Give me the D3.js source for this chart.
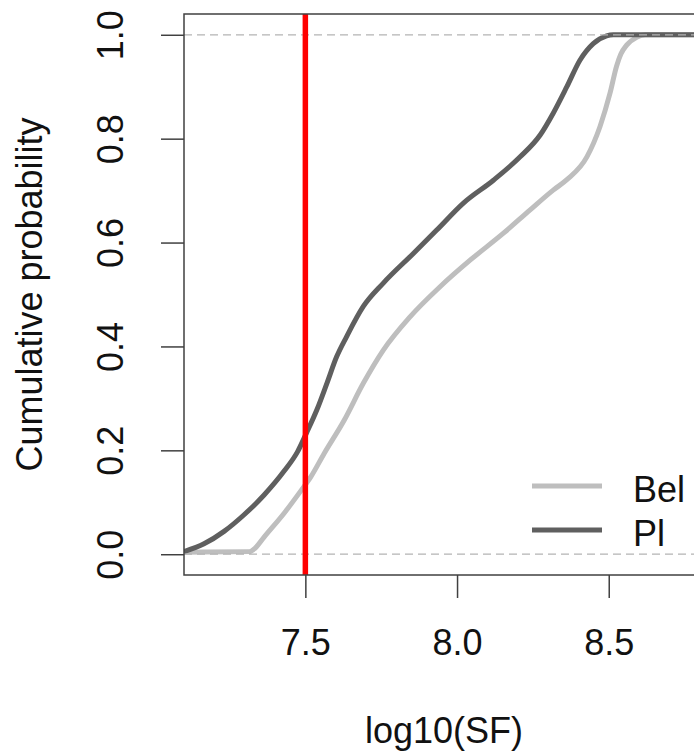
<!DOCTYPE html>
<html>
<head>
<meta charset="utf-8">
<script src="https://cdn.jsdelivr.net/npm/d3@7"></script>
<style>
  html, body { margin: 0; padding: 0; background: #fff; }
  svg { display: block; font-family: Arial, "Liberation Sans", sans-serif; }
</style>
</head>
<body>
<svg id="chart" width="694" height="753"></svg>
<script>
// ---- data ----
const seriesNames = ["Bel", "Pl"];
const belX = [7.100, 7.315, 7.335, 7.364, 7.430, 7.485, 7.518, 7.562, 7.628, 7.691, 7.757, 7.845, 7.944, 8.043, 8.153, 8.241, 8.317, 8.362, 8.428, 8.471, 8.504, 8.526, 8.540, 8.559, 8.592, 8.620, 8.820];
const belP = [0.004, 0.005, 0.012, 0.033, 0.079, 0.122, 0.149, 0.194, 0.258, 0.329, 0.393, 0.457, 0.515, 0.566, 0.618, 0.663, 0.701, 0.721, 0.765, 0.823, 0.887, 0.940, 0.963, 0.980, 0.995, 1.000, 1.000];
const plX = [7.100, 7.166, 7.232, 7.298, 7.364, 7.430, 7.474, 7.505, 7.538, 7.571, 7.603, 7.636, 7.691, 7.757, 7.856, 7.933, 8.021, 8.120, 8.208, 8.274, 8.317, 8.362, 8.405, 8.449, 8.493, 8.515, 8.820];
const plP = [0.005, 0.020, 0.044, 0.076, 0.114, 0.160, 0.197, 0.235, 0.278, 0.329, 0.380, 0.419, 0.477, 0.522, 0.579, 0.624, 0.676, 0.720, 0.765, 0.807, 0.849, 0.900, 0.951, 0.983, 0.998, 1.000, 1.000];
const xTicks = [7.5, 8.0, 8.5];
const xTickLabels = ["7.5", "8.0", "8.5"];
const yTicks = [0, 0.2, 0.4, 0.6, 0.8, 1.0];
const yTickLabels = ["0.0", "0.2", "0.4", "0.6", "0.8", "1.0"];
const refLines = [0, 1];
const threshold = 7.5;
const xTitle = "log10(SF)";
const yTitle = "Cumulative probability";

// ---- layout ----
const svg = d3.select("#chart");
const pLeft = 184, pRight = 704, pTop = 14, pBottom = 575;
const x = d3.scaleLinear().domain([7.1, 8.814]).range([pLeft, pRight]);
const y = d3.scaleLinear().domain([-0.04, 1.04]).range([pBottom, pTop]);
const colors = { Bel: "#bebebe", Pl: "#5f5f5f" };
const fontSize = 36;

svg.append("defs").append("clipPath").attr("id", "plotclip")
  .append("rect").attr("x", pLeft).attr("y", pTop).attr("width", pRight - pLeft).attr("height", pBottom - pTop);

const plot = svg.append("g").attr("clip-path", "url(#plotclip)");

const line = d3.line().x(d => x(d[0])).y(d => y(d[1])).curve(d3.curveMonotoneX);
const series = [
  { name: seriesNames[0], data: belX.map((v, i) => [v, belP[i]]) },
  { name: seriesNames[1], data: plX.map((v, i) => [v, plP[i]]) }
];
series.forEach(s => {
  plot.append("path").datum(s.data)
    .attr("d", line)
    .attr("fill", "none")
    .attr("stroke", colors[s.name])
    .attr("stroke-width", 5)
    .attr("stroke-linejoin", "round");
});

// dashed reference lines at 0 and 1
plot.selectAll("line.ref").data(refLines).enter().append("line")
  .attr("class", "ref")
  .attr("x1", pLeft).attr("x2", pRight)
  .attr("y1", d => y(d)).attr("y2", d => y(d))
  .attr("stroke", "#b4b4b4").attr("stroke-width", 1.2)
  .attr("stroke-dasharray", "8,5");

// red threshold line
plot.append("line")
  .attr("x1", x(threshold)).attr("x2", x(threshold))
  .attr("y1", pTop).attr("y2", pBottom)
  .attr("stroke", "#ff0000").attr("stroke-width", 5.5);

// frame (right edge falls outside the picture)
svg.append("rect")
  .attr("x", pLeft).attr("y", pTop).attr("width", pRight - pLeft).attr("height", pBottom - pTop)
  .attr("fill", "none").attr("stroke", "#404040").attr("stroke-width", 1.5);

// x axis
const xAxis = d3.axisBottom(x).tickValues(xTicks).tickSize(23).tickPadding(0)
  .tickFormat((d, i) => xTickLabels[i]);
const gx = svg.append("g").attr("transform", `translate(0,${pBottom})`).call(xAxis);
gx.select(".domain").remove();
gx.selectAll(".tick line").attr("stroke", "#404040").attr("stroke-width", 1.5);
gx.selectAll(".tick text").attr("font-size", fontSize).attr("fill", "#111")
  .attr("font-family", "Arial, 'Liberation Sans', sans-serif")
  .attr("dy", null).attr("y", 80);

// y axis
const yAxis = d3.axisLeft(y).tickValues(yTicks).tickSize(23).tickPadding(0)
  .tickFormat((d, i) => yTickLabels[i]);
const gy = svg.append("g").attr("transform", `translate(${pLeft},0)`).call(yAxis);
gy.select(".domain").remove();
gy.selectAll(".tick line").attr("stroke", "#404040").attr("stroke-width", 1.5);
gy.selectAll(".tick text")
  .attr("font-size", fontSize).attr("fill", "#111")
  .attr("font-family", "Arial, 'Liberation Sans', sans-serif")
  .attr("x", null).attr("dy", null)
  .attr("text-anchor", "middle")
  .attr("transform", "translate(-61,0) rotate(-90)");

// axis titles
svg.append("text")
  .attr("x", (pLeft + pRight) / 2).attr("y", 743)
  .attr("text-anchor", "middle").attr("font-size", fontSize).attr("fill", "#111")
  .text(xTitle);
svg.append("text")
  .attr("transform", `translate(42,${(pTop + pBottom) / 2}) rotate(-90)`)
  .attr("text-anchor", "middle").attr("font-size", fontSize).attr("fill", "#111")
  .text(yTitle);

// legend
const legend = svg.append("g");
const legendY = [486, 530];
series.forEach((s, i) => {
  legend.append("line")
    .attr("x1", 532).attr("x2", 602)
    .attr("y1", legendY[i]).attr("y2", legendY[i])
    .attr("stroke", colors[s.name]).attr("stroke-width", 5);
  legend.append("text")
    .attr("x", 633).attr("y", legendY[i] + 16)
    .attr("font-size", fontSize).attr("fill", "#111")
    .text(s.name);
});
</script>
</body>
</html>
